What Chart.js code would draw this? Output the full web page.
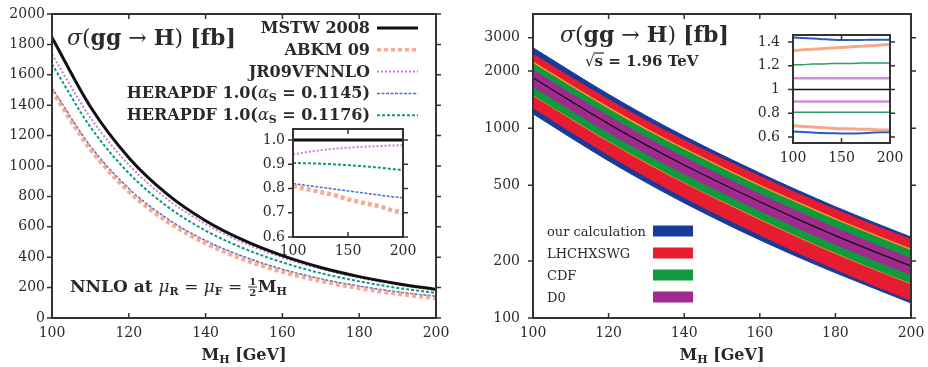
<!DOCTYPE html>
<html><head><meta charset="utf-8">
<script src="https://cdn.jsdelivr.net/npm/chart.js@4.4.1/dist/chart.umd.min.js"></script>
<style>
html,body{margin:0;padding:0;background:#fff;width:928px;height:367px;overflow:hidden}
.c{position:absolute}
</style></head><body>
<div class="c" style="left:0;top:0;width:460px;height:367px"><canvas id="mainL"></canvas></div>
<div class="c" style="left:240px;top:115px;width:180px;height:145px"><canvas id="insetL"></canvas></div>
<div class="c" style="left:460px;top:0;width:468px;height:367px"><canvas id="mainR"></canvas></div>
<div class="c" style="left:750px;top:20px;width:160px;height:155px"><canvas id="insetR"></canvas></div>
<script>
// ---------------- DATA ----------------
const massGeV = [100,110,120,130,140,150,160,170,180,190,200];
// left panel: sigma(gg->H) [fb] for different PDF sets
const mstw2008    = [1845,1390,1055,815,640,510,410,332,272,225,188];
const abkm09      = [1495,1112,833,636,493,385,305,244,197,160,132];
const jr09vfnnlo  = [1734,1318,1008,782,618,494,398,323,265,220,184];
const herapdf1145 = [1513,1131,852,654,509,403,321,258,210,172,143];
const herapdf1176 = [1670,1257,953,734,575,457,366,295,241,198,165];
// left inset: ratio to MSTW 2008
const ratioMstw     = [1,1,1,1,1,1,1,1,1,1,1];
const ratioAbkm     = [0.81,0.80,0.79,0.78,0.77,0.755,0.745,0.735,0.725,0.71,0.70];
const ratioJr09     = [0.94,0.948,0.955,0.96,0.965,0.968,0.971,0.973,0.975,0.977,0.978];
const ratioHera1145 = [0.82,0.814,0.808,0.802,0.796,0.79,0.784,0.778,0.772,0.766,0.762];
const ratioHera1176 = [0.905,0.904,0.903,0.901,0.899,0.896,0.893,0.889,0.885,0.88,0.876];
// right panel: Tevatron sqrt(s)=1.96 TeV, central value and uncertainty bands [fb]
const centralTev = [1845,1390,1055,815,640,510,410,332,272,225,188];
const ourUp  = [2657,1995,1509,1161,909,723,581,471,386,320,267];
const ourLo  = [1192,892,673,517,404,321,258,210,173,144,120];
const lhcUp  = [2454,1856,1414,1096,864,691,558,453,373,309,259];
const lhcLo  = [1282,959,723,554,432,342,275,221,181,149,124];
const cdfUp  = [2232,1682,1282,990,781,622,500,407,333,276,230];
const cdfLo  = [1494,1126,855,660,518,413,332,269,220,182,152];
const d0Up   = [2020,1522,1155,892,701,558,449,364,298,246,206];
const d0Lo   = [1661,1251,950,734,576,459,369,299,245,203,169];
// right inset: band edges relative to central value
const ratioCentral = [1,1,1,1,1,1,1,1,1,1,1];
const ourUpR = [1.44,1.435,1.43,1.425,1.42,1.417,1.417,1.418,1.42,1.42,1.42];
const ourLoR = [0.646,0.642,0.638,0.634,0.632,0.63,0.63,0.632,0.636,0.64,0.64];
const lhcUpR = [1.33,1.335,1.34,1.345,1.35,1.355,1.36,1.365,1.37,1.375,1.38];
const lhcLoR = [0.695,0.69,0.685,0.68,0.675,0.67,0.67,0.665,0.665,0.66,0.66];
const cdfUpR = [1.21,1.21,1.215,1.215,1.22,1.22,1.22,1.225,1.225,1.225,1.225];
const cdfLoR = [0.81,0.81,0.81,0.81,0.81,0.81,0.81,0.81,0.81,0.81,0.81];
const d0UpR  = [1.095,1.095,1.095,1.095,1.095,1.095,1.095,1.095,1.095,1.095,1.095];
const d0LoR  = [0.90,0.90,0.90,0.90,0.90,0.90,0.90,0.90,0.90,0.90,0.90];
// tick labels
const mainXTicks  = [100,120,140,160,180,200];
const leftYTicks  = [0,200,400,600,800,1000,1200,1400,1600,1800,2000];
const rightYTicks = [100,200,500,1000,2000,3000];
const insetXTicks = [100,150,200];
const insetLYTicks = [0.6,0.7,0.8,0.9,1.0];
const insetLYLabels = ['0.6','0.7','0.8','0.9','1.0'];
const insetRYTicks = [0.6,0.8,1.0,1.2,1.4];
const insetRYLabels = ['0.6','0.8','1','1.2','1.4'];
const leftSeriesNames = ['MSTW 2008','ABKM 09','JR09VFNNLO','HERAPDF 1.0(αS = 0.1145)','HERAPDF 1.0(αS = 0.1176)'];
const bandNames = ['our calculation','LHCHXSWG','CDF','D0'];

// ---------------- STYLE ----------------
const SERIF = '"DejaVu Serif", "Liberation Serif", serif';
const N = s => `${s}px ${SERIF}`, B = s => `bold ${s}px ${SERIF}`, I = s => `italic ${s}px ${SERIF}`;
const TXT = '#2a2a2a';
const cBlue='#183a9a', cRed='#e81c30', cGreen='#0f9a3e', cPurple='#a02a90';

function pts(ys){ return massGeV.map((x,i)=>({x, y: ys[i]})); }

function segWidth(ctx,s){
  if (s.frac){ ctx.font=s.f; return Math.max(ctx.measureText(s.frac[0]).width, ctx.measureText(s.frac[1]).width)+3; }
  ctx.font=s.f; return ctx.measureText(s.t).width;
}
function drawRich(ctx, segs, x, y, align){
  let w=0; segs.forEach(s=>w+=segWidth(ctx,s));
  let cx = align==='right' ? x-w : align==='center' ? x-w/2 : x;
  ctx.save(); ctx.textBaseline='alphabetic'; ctx.textAlign='left'; ctx.fillStyle=TXT; ctx.strokeStyle=TXT;
  for (const s of segs){
    const sw = segWidth(ctx,s);
    ctx.font=s.f;
    if (s.frac){
      const m = y-5;
      ctx.textAlign='center';
      ctx.fillText(s.frac[0], cx+sw/2, m-2);
      ctx.fillText(s.frac[1], cx+sw/2, m+9);
      ctx.lineWidth=1; ctx.beginPath(); ctx.moveTo(cx+0.5,m); ctx.lineTo(cx+sw-0.5,m); ctx.stroke();
      ctx.textAlign='left';
    } else {
      ctx.fillText(s.t, cx, y+(s.dy||0));
      if (s.over){ ctx.lineWidth=1.2; ctx.beginPath(); ctx.moveTo(cx-1, y-s.over); ctx.lineTo(cx+sw+1, y-s.over); ctx.stroke(); }
    }
    cx += sw;
  }
  ctx.restore();
}

const framePlugin = {
  id:'frame',
  afterDatasetsDraw(chart){
    const {ctx, chartArea:a, scales} = chart;
    ctx.save();
    ctx.strokeStyle='#333'; ctx.lineWidth=2;
    ctx.strokeRect(a.left, a.top, a.right-a.left, a.bottom-a.top);
    ctx.lineWidth=1.5; ctx.beginPath();
    const L=5;
    scales.x.ticks.forEach(t=>{ const p=scales.x.getPixelForValue(t.value);
      ctx.moveTo(p,a.bottom); ctx.lineTo(p,a.bottom-L); ctx.moveTo(p,a.top); ctx.lineTo(p,a.top+L); });
    scales.y.ticks.forEach(t=>{ const p=scales.y.getPixelForValue(t.value);
      ctx.moveTo(a.left,p); ctx.lineTo(a.left-L,p); ctx.moveTo(a.right,p); ctx.lineTo(a.right+L,p); });
    ctx.stroke(); ctx.restore();
  }
};
const whiteArea = {
  id:'whiteArea',
  beforeDraw(chart){ const {ctx, chartArea:a}=chart; ctx.save(); ctx.fillStyle='#fff'; ctx.fillRect(a.left,a.top,a.right-a.left,a.bottom-a.top); ctx.restore(); }
};

function zeroPad(s){ s.paddingTop=0; s.paddingBottom=0; s.paddingLeft=0; s.paddingRight=0; }
function axisX(ticks, pad, h){
  return { type:'linear', min:100, max:200,
    afterBuildTicks: s => { s.ticks = ticks.map(v=>({value:v})); },
    afterFit: s => { s.height = h; zeroPad(s); },
    grid:{display:false, drawTicks:false}, border:{display:false},
    ticks:{ font:{family:SERIF,size:14}, color:TXT, padding:pad, maxRotation:0, autoSkip:false, callback:v=>String(v) } };
}
function axisY(type, min, max, ticks, labels, pad, w){
  return { type, min, max,
    afterBuildTicks: s => { s.ticks = ticks.map(v=>({value:v})); },
    afterFit: s => { s.width = w; zeroPad(s); },
    grid:{display:false, drawTicks:false}, border:{display:false},
    ticks:{ font:{family:SERIF,size:14}, color:TXT, padding:pad, autoSkip:false,
      callback:(v)=>{ const i=ticks.indexOf(v); return labels ? labels[i] : String(v); } } };
}
const base = { responsive:true, maintainAspectRatio:false, animation:false, devicePixelRatio:1,
  plugins:{legend:{display:false}, tooltip:{enabled:false}},
  elements:{point:{radius:0}, line:{cubicInterpolationMode:'monotone'}} };

// ---------------- LEFT MAIN ----------------
const leftStyles = [
  {c:'#111111', w:3, d:[]},
  {c:'rgba(242,135,100,0.7)', w:4.5, d:[4,3]},
  {c:'#c77fd9', w:2, d:[2,2]},
  {c:'#4a6fd0', w:1.5, d:[3,1.5]},
  {c:'#0a9a80', w:2, d:[3,2]},
];
const leftData = [mstw2008, abkm09, jr09vfnnlo, herapdf1145, herapdf1176];
const leftRich = [
  [{t:'MSTW 2008',f:B(16)}],
  [{t:'ABKM 09',f:B(16)}],
  [{t:'JR09VFNNLO',f:B(16)}],
  [{t:'HERAPDF 1.0(',f:B(16)},{t:'α',f:I(16)},{t:'S',f:B(11),dy:3},{t:' = 0.1145)',f:B(16)}],
  [{t:'HERAPDF 1.0(',f:B(16)},{t:'α',f:I(16)},{t:'S',f:B(11),dy:3},{t:' = 0.1176)',f:B(16)}],
];
const leftText = {
  id:'leftText',
  afterDraw(chart){
    const ctx=chart.ctx;
    drawRich(ctx,[{t:'σ',f:I(22)},{t:'(',f:N(22)},{t:'gg',f:B(22)},{t:' → ',f:N(22)},{t:'H',f:B(22)},{t:') ',f:N(22)},{t:'[fb]',f:B(22)}],67,45,'left');
    chart.data.datasets.forEach((ds,i)=>{
      const y = 27 + i*21.8;
      drawRich(ctx, leftRich[i], 370, y+6, 'right');
      ctx.save(); ctx.strokeStyle=ds.borderColor; ctx.lineWidth=Math.min(ds.borderWidth,3.5); ctx.setLineDash(ds.borderDash||[]);
      ctx.beginPath(); ctx.moveTo(377,y+1); ctx.lineTo(418,y+1); ctx.stroke(); ctx.restore();
    });
    drawRich(ctx,[{t:'NNLO at ',f:B(17)},{t:'μ',f:I(17)},{t:'R',f:B(11),dy:3},{t:' = ',f:N(17)},{t:'μ',f:I(17)},{t:'F',f:B(11),dy:3},{t:' = ',f:N(17)},{frac:['1','2'],f:B(10)},{t:'M',f:B(17)},{t:'H',f:B(11),dy:3}],70,292,'left');
    drawRich(ctx,[{t:'M',f:B(16)},{t:'H',f:B(11),dy:3},{t:' [GeV]',f:B(16)}],244,360,'center');
  }
};
new Chart(document.getElementById('mainL'), {
  type:'line',
  data:{ datasets: leftData.map((d,i)=>({ label:leftSeriesNames[i], data:pts(d), borderColor:leftStyles[i].c, borderWidth:leftStyles[i].w, borderDash:leftStyles[i].d, fill:false })) },
  options:{ ...base, layout:{padding:{top:14,right:24,left:0,bottom:0}},
    scales:{ x:axisX(mainXTicks,7,49), y:axisY('linear',0,2000,leftYTicks,null,7,52) } },
  plugins:[framePlugin, leftText]
});

// ---------------- LEFT INSET ----------------
const leftRatio = [ratioMstw, ratioAbkm, ratioJr09, ratioHera1145, ratioHera1176];
new Chart(document.getElementById('insetL'), {
  type:'line',
  data:{ datasets: leftRatio.map((d,i)=>({ label:leftSeriesNames[i], data:pts(d), borderColor:leftStyles[i].c, borderWidth:leftStyles[i].w, borderDash:leftStyles[i].d, fill:false })) },
  options:{ ...base, layout:{padding:{top:14,right:17,left:0,bottom:0}},
    scales:{ x:axisX(insetXTicks,6,23), y:axisY('linear',0.6,1.045,insetLYTicks,insetLYLabels,8,53) } },
  plugins:[whiteArea, framePlugin]
});

// ---------------- RIGHT MAIN ----------------
const bandColors = [cBlue, cRed, cGreen, cPurple];
const rightText = {
  id:'rightText',
  afterDraw(chart){
    const ctx=chart.ctx;
    drawRich(ctx,[{t:'σ',f:I(22)},{t:'(',f:N(22)},{t:'gg',f:B(22)},{t:' → ',f:N(22)},{t:'H',f:B(22)},{t:') ',f:N(22)},{t:'[fb]',f:B(22)}],100,42,'left');
    drawRich(ctx,[{t:'√',f:N(15)},{t:'s',f:B(15),over:13},{t:' = 1.96 TeV',f:B(15)}],125,66,'left');
    bandNames.forEach((nm,i)=>{
      const y = 231 + i*22;
      drawRich(ctx,[{t:nm,f:N(13)}],87,y+5,'left');
      ctx.save(); ctx.fillStyle=bandColors[i]; ctx.fillRect(193,y-5.5,40,11); ctx.restore();
    });
    drawRich(ctx,[{t:'M',f:B(16)},{t:'H',f:B(11),dy:3},{t:' [GeV]',f:B(16)}],262,360,'center');
  }
};
const bandSets = [[d0Up,d0Lo],[cdfUp,cdfLo],[lhcUp,lhcLo],[ourUp,ourLo]];
const bandCols = [cPurple,cGreen,cRed,cBlue];
const bandLbls = ['D0','CDF','LHCHXSWG','our calculation'];
const rightDatasets = [{ label:'central', data:pts(centralTev), borderColor:'#111', borderWidth:1.3, fill:false }];
bandSets.forEach((b,i)=>{
  const edge = bandCols[i]===cGreen ? {borderColor:'#f39a2a', borderWidth:1.5} : {borderColor:bandCols[i], borderWidth:1};
  rightDatasets.push({ label:bandLbls[i]+' upper', data:pts(b[0]), ...edge, backgroundColor:bandCols[i], fill:'+1' });
  rightDatasets.push({ label:bandLbls[i]+' lower', data:pts(b[1]), ...edge, backgroundColor:bandCols[i], fill:false });
});
new Chart(document.getElementById('mainR'), {
  type:'line',
  data:{ datasets: rightDatasets },
  options:{ ...base, layout:{padding:{top:14,right:17,left:0,bottom:0}},
    scales:{ x:axisX(mainXTicks,7,49), y:axisY('logarithmic',100,4000,rightYTicks,null,13,73) } },
  plugins:[framePlugin, rightText]
});

// ---------------- RIGHT INSET ----------------
const rInset = [
  {d:ratioCentral, c:'#111', w:1.5},
  {d:d0UpR, c:'#cf8fdc', w:2.5}, {d:d0LoR, c:'#cf8fdc', w:2.5},
  {d:cdfUpR, c:'#2f9c6e', w:1.5}, {d:cdfLoR, c:'#2f9c6e', w:1.5},
  {d:lhcUpR, c:'rgba(242,140,100,0.75)', w:3}, {d:lhcLoR, c:'rgba(242,140,100,0.75)', w:3},
  {d:ourUpR, c:'#2a5cc8', w:2}, {d:ourLoR, c:'#2a5cc8', w:2},
];
new Chart(document.getElementById('insetR'), {
  type:'line',
  data:{ datasets: rInset.map(r=>({ data:pts(r.d), borderColor:r.c, borderWidth:r.w, fill:false })) },
  options:{ ...base, layout:{padding:{top:15,right:20,left:0,bottom:0}},
    scales:{ x:axisX(insetXTicks,7,32), y:axisY('linear',0.55,1.46,insetRYTicks,insetRYLabels,13,43) } },
  plugins:[whiteArea, framePlugin]
});
</script>
</body></html>
